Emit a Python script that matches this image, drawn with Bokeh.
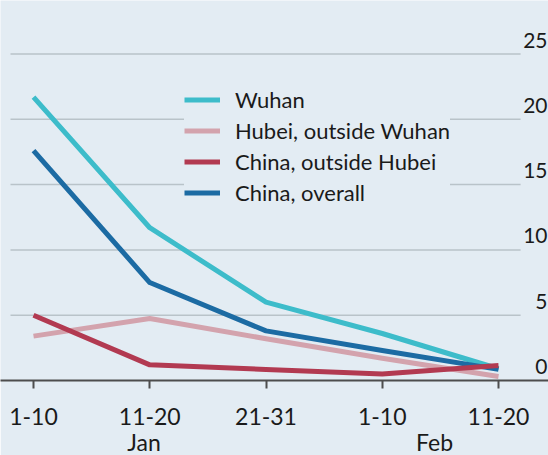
from bokeh.plotting import figure
from bokeh.models import FixedTicker, LinearAxis, Legend, LegendItem, ColumnDataSource, Range1d
from bokeh.embed import file_html
from bokeh.resources import INLINE
from bokeh.core.properties import value

# ---- data ----
periods = ["1-10", "11-20", "21-31", "1-10", "11-20"]
x_idx = [0, 1, 2, 3, 4]
months = ["Jan", "Feb"]
month_pos = [0.95, 3.45]
wuhan = [21.7, 11.7, 6.0, 3.6, 0.9]
hubei_outside_wuhan = [3.4, 4.75, 3.2, 1.7, 0.3]
china_outside_hubei = [5.0, 1.2, 0.85, 0.5, 1.15]
china_overall = [17.6, 7.5, 3.8, 2.3, 0.85]
y_ticks = [0, 5, 10, 15, 20, 25]
y_labels = ["0", "5", "10", "15", "20", "25"]

BG = "#e3ecf3"
FONT = "Lato"

p = figure(width=548, height=455, frame_width=548, frame_height=380,
           x_range=Range1d(-0.284, 4.43), y_range=Range1d(0, 29.1),
           x_axis_location=None, y_axis_location=None,
           output_backend="svg", toolbar_location=None,
           min_border_left=0, min_border_right=0, min_border_top=0, min_border_bottom=0)
p.grid.visible = False
p.background_fill_color = BG
p.border_fill_color = BG
p.outline_line_color = None

# gridlines
gy = y_ticks[1:]
p.segment(x0=[-0.198] * len(gy), x1=[4.19] * len(gy), y0=gy, y1=gy,
          line_color="#b9c3c9", line_width=1.5)

# y labels
src_y = ColumnDataSource(dict(x=[4.43] * len(y_ticks), y=y_ticks, t=y_labels))
p.text(x="x", y="y", text="t", source=src_y, text_align="right", text_baseline="alphabetic",
       x_offset=-1, y_offset=-14, text_font=value(FONT), text_font_size="21px", text_color="#1a1a1a")

series = [
    ("Wuhan", wuhan, "#3dbcca"),
    ("Hubei, outside Wuhan", hubei_outside_wuhan, "#d3a3ad"),
    ("China, outside Hubei", china_outside_hubei, "#b23a51"),
    ("China, overall", china_overall, "#1c6ba3"),
]
renderers = {}
draw_order = ["Hubei, outside Wuhan", "Wuhan", "China, overall", "China, outside Hubei"]
for name in draw_order:
    vals, col = [(v, c) for n, v, c in series if n == name][0]
    renderers[name] = p.line(x_idx, vals, line_color=col, line_width=5, line_join="round")

items = [LegendItem(label=n, renderers=[renderers[n]]) for n, _, _ in series]
legend = Legend(items=items, location=(184, 172), background_fill_color=BG,
                background_fill_alpha=1, border_line_color=None, padding=10, margin=0,
                spacing=0, label_height=31, glyph_height=31, glyph_width=36, label_standoff=15,
                label_text_font=FONT, label_text_font_size="22px", label_text_color="#1a1a1a")
p.add_layout(legend, "center")

# x axes
xa = LinearAxis(ticker=FixedTicker(ticks=x_idx),
                major_label_overrides={i: t for i, t in zip(x_idx, periods)})
xa.axis_line_color = "#4d4d4d"
xa.axis_line_width = 2
xa.major_tick_line_color = "#4d4d4d"
xa.major_tick_line_width = 2
xa.major_tick_out = 8
xa.major_tick_in = 0
xa.minor_tick_line_color = None
xa.major_label_standoff = 19
xa.major_label_text_font = FONT
xa.major_label_text_font_size = "23px"
xa.major_label_text_color = "#1a1a1a"
p.add_layout(xa, "below")

ma = LinearAxis(ticker=FixedTicker(ticks=month_pos),
                major_label_overrides={pos: m for pos, m in zip(month_pos, months)})
ma.axis_line_color = None
ma.major_tick_line_color = None
ma.minor_tick_line_color = None
ma.major_tick_out = 0
ma.major_tick_in = 0
ma.major_label_standoff = 0
ma.major_label_text_font = FONT
ma.major_label_text_font_size = "23px"
ma.major_label_text_color = "#1a1a1a"
p.add_layout(ma, "below")

html = file_html(p, INLINE)
html = html.replace("<body>", '<body style="background:%s">' % BG, 1)
open("out.html", "w").write(html)
